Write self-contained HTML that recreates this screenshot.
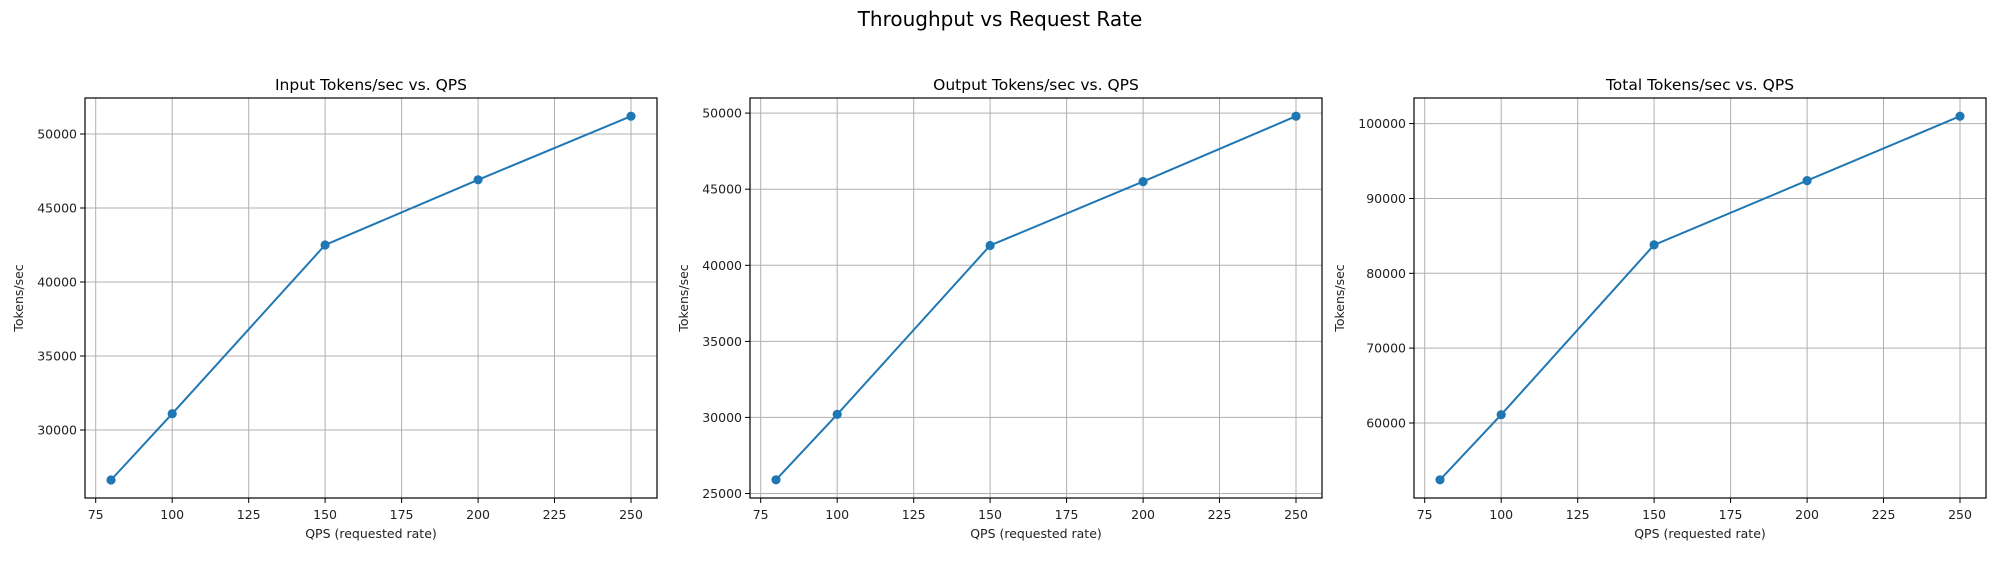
<!DOCTYPE html>
<html><head><meta charset="utf-8"><style>
html,body{margin:0;padding:0;background:#fff;}
svg{display:block;font-family:"DejaVu Sans","Liberation Sans",sans-serif;}
.g line{stroke:#b0b0b0;stroke-width:1;}
.k line{stroke:#000;stroke-width:1;}
.t{font-size:12.5px;fill:#222;}
.ttl{font-size:15.5px;fill:#000;}
</style></head><body>
<svg width="1999" height="572" viewBox="0 0 1999 572" xmlns="http://www.w3.org/2000/svg">
<rect width="1999" height="572" fill="#fff"/>
<text x="1000" y="26" text-anchor="middle" style="font-size:20px" fill="#000">Throughput vs Request Rate</text>

<!-- Panel 1 -->
<g transform="translate(85,0)">
 <g class="g">
  <line x1="10.7" y1="98" x2="10.7" y2="498"/><line x1="87.2" y1="98" x2="87.2" y2="498"/><line x1="163.7" y1="98" x2="163.7" y2="498"/><line x1="240.1" y1="98" x2="240.1" y2="498"/><line x1="316.6" y1="98" x2="316.6" y2="498"/><line x1="393.1" y1="98" x2="393.1" y2="498"/><line x1="469.5" y1="98" x2="469.5" y2="498"/><line x1="546" y1="98" x2="546" y2="498"/>
  <line x1="0" y1="430" x2="572" y2="430"/><line x1="0" y1="356" x2="572" y2="356"/><line x1="0" y1="282" x2="572" y2="282"/><line x1="0" y1="208" x2="572" y2="208"/><line x1="0" y1="134" x2="572" y2="134"/>
 </g>
 <g class="k">
  <line x1="10.7" y1="498" x2="10.7" y2="503"/><line x1="87.2" y1="498" x2="87.2" y2="503"/><line x1="163.7" y1="498" x2="163.7" y2="503"/><line x1="240.1" y1="498" x2="240.1" y2="503"/><line x1="316.6" y1="498" x2="316.6" y2="503"/><line x1="393.1" y1="498" x2="393.1" y2="503"/><line x1="469.5" y1="498" x2="469.5" y2="503"/><line x1="546" y1="498" x2="546" y2="503"/>
  <line x1="-5" y1="430" x2="0" y2="430"/><line x1="-5" y1="356" x2="0" y2="356"/><line x1="-5" y1="282" x2="0" y2="282"/><line x1="-5" y1="208" x2="0" y2="208"/><line x1="-5" y1="134" x2="0" y2="134"/>
 </g>
 <rect x="0" y="98" width="572" height="400" fill="none" stroke="#000" stroke-width="1.2"/>
 <polyline points="26,480 87.2,413.7 240.1,245 393.1,179.8 546,116.2" fill="none" stroke="#1f77b4" stroke-width="2"/>
 <g fill="#1f77b4"><circle cx="26" cy="480" r="4.6"/><circle cx="87.2" cy="413.7" r="4.6"/><circle cx="240.1" cy="245" r="4.6"/><circle cx="393.1" cy="179.8" r="4.6"/><circle cx="546" cy="116.2" r="4.6"/></g>
 <g class="t" text-anchor="middle"><text x="10.7" y="519">75</text><text x="87.2" y="519">100</text><text x="163.7" y="519">125</text><text x="240.1" y="519">150</text><text x="316.6" y="519">175</text><text x="393.1" y="519">200</text><text x="469.5" y="519">225</text><text x="546" y="519">250</text></g>
 <g class="t" text-anchor="end"><text x="-8" y="434.5">30000</text><text x="-8" y="360.5">35000</text><text x="-8" y="286.5">40000</text><text x="-8" y="212.5">45000</text><text x="-8" y="138.5">50000</text></g>
 <text class="t" x="286" y="538" text-anchor="middle">QPS (requested rate)</text>
 <text class="t" transform="translate(-62,298) rotate(-90)" text-anchor="middle">Tokens/sec</text>
 <text class="ttl" x="286" y="90" text-anchor="middle">Input Tokens/sec vs. QPS</text>
</g>

<!-- Panel 2 -->
<g transform="translate(750,0)">
 <g class="g">
  <line x1="10.7" y1="98" x2="10.7" y2="498"/><line x1="87.2" y1="98" x2="87.2" y2="498"/><line x1="163.7" y1="98" x2="163.7" y2="498"/><line x1="240.1" y1="98" x2="240.1" y2="498"/><line x1="316.6" y1="98" x2="316.6" y2="498"/><line x1="393.1" y1="98" x2="393.1" y2="498"/><line x1="469.5" y1="98" x2="469.5" y2="498"/><line x1="546" y1="98" x2="546" y2="498"/>
  <line x1="0" y1="493.5" x2="572" y2="493.5"/><line x1="0" y1="417.4" x2="572" y2="417.4"/><line x1="0" y1="341.4" x2="572" y2="341.4"/><line x1="0" y1="265.3" x2="572" y2="265.3"/><line x1="0" y1="189.2" x2="572" y2="189.2"/><line x1="0" y1="113.1" x2="572" y2="113.1"/>
 </g>
 <g class="k">
  <line x1="10.7" y1="498" x2="10.7" y2="503"/><line x1="87.2" y1="498" x2="87.2" y2="503"/><line x1="163.7" y1="498" x2="163.7" y2="503"/><line x1="240.1" y1="498" x2="240.1" y2="503"/><line x1="316.6" y1="498" x2="316.6" y2="503"/><line x1="393.1" y1="498" x2="393.1" y2="503"/><line x1="469.5" y1="498" x2="469.5" y2="503"/><line x1="546" y1="498" x2="546" y2="503"/>
  <line x1="-5" y1="493.5" x2="0" y2="493.5"/><line x1="-5" y1="417.4" x2="0" y2="417.4"/><line x1="-5" y1="341.4" x2="0" y2="341.4"/><line x1="-5" y1="265.3" x2="0" y2="265.3"/><line x1="-5" y1="189.2" x2="0" y2="189.2"/><line x1="-5" y1="113.1" x2="0" y2="113.1"/>
 </g>
 <rect x="0" y="98" width="572" height="400" fill="none" stroke="#000" stroke-width="1.2"/>
 <polyline points="26,479.8 87.2,414.4 240.1,245.5 393.1,181.6 546,116.2" fill="none" stroke="#1f77b4" stroke-width="2"/>
 <g fill="#1f77b4"><circle cx="26" cy="479.8" r="4.6"/><circle cx="87.2" cy="414.4" r="4.6"/><circle cx="240.1" cy="245.5" r="4.6"/><circle cx="393.1" cy="181.6" r="4.6"/><circle cx="546" cy="116.2" r="4.6"/></g>
 <g class="t" text-anchor="middle"><text x="10.7" y="519">75</text><text x="87.2" y="519">100</text><text x="163.7" y="519">125</text><text x="240.1" y="519">150</text><text x="316.6" y="519">175</text><text x="393.1" y="519">200</text><text x="469.5" y="519">225</text><text x="546" y="519">250</text></g>
 <g class="t" text-anchor="end"><text x="-8" y="498">25000</text><text x="-8" y="421.9">30000</text><text x="-8" y="345.9">35000</text><text x="-8" y="269.8">40000</text><text x="-8" y="193.7">45000</text><text x="-8" y="117.6">50000</text></g>
 <text class="t" x="286" y="538" text-anchor="middle">QPS (requested rate)</text>
 <text class="t" transform="translate(-62,298) rotate(-90)" text-anchor="middle">Tokens/sec</text>
 <text class="ttl" x="286" y="90" text-anchor="middle">Output Tokens/sec vs. QPS</text>
</g>

<!-- Panel 3 -->
<g transform="translate(1414,0)">
 <g class="g">
  <line x1="10.7" y1="98" x2="10.7" y2="498"/><line x1="87.2" y1="98" x2="87.2" y2="498"/><line x1="163.7" y1="98" x2="163.7" y2="498"/><line x1="240.1" y1="98" x2="240.1" y2="498"/><line x1="316.6" y1="98" x2="316.6" y2="498"/><line x1="393.1" y1="98" x2="393.1" y2="498"/><line x1="469.5" y1="98" x2="469.5" y2="498"/><line x1="546" y1="98" x2="546" y2="498"/>
  <line x1="0" y1="423" x2="572" y2="423"/><line x1="0" y1="348.1" x2="572" y2="348.1"/><line x1="0" y1="273.3" x2="572" y2="273.3"/><line x1="0" y1="198.5" x2="572" y2="198.5"/><line x1="0" y1="123.6" x2="572" y2="123.6"/>
 </g>
 <g class="k">
  <line x1="10.7" y1="498" x2="10.7" y2="503"/><line x1="87.2" y1="498" x2="87.2" y2="503"/><line x1="163.7" y1="498" x2="163.7" y2="503"/><line x1="240.1" y1="498" x2="240.1" y2="503"/><line x1="316.6" y1="498" x2="316.6" y2="503"/><line x1="393.1" y1="498" x2="393.1" y2="503"/><line x1="469.5" y1="498" x2="469.5" y2="503"/><line x1="546" y1="498" x2="546" y2="503"/>
  <line x1="-5" y1="423" x2="0" y2="423"/><line x1="-5" y1="348.1" x2="0" y2="348.1"/><line x1="-5" y1="273.3" x2="0" y2="273.3"/><line x1="-5" y1="198.5" x2="0" y2="198.5"/><line x1="-5" y1="123.6" x2="0" y2="123.6"/>
 </g>
 <rect x="0" y="98" width="572" height="400" fill="none" stroke="#000" stroke-width="1.2"/>
 <polyline points="26,479.8 87.2,414.7 240.1,244.9 393.1,180.6 546,116.2" fill="none" stroke="#1f77b4" stroke-width="2"/>
 <g fill="#1f77b4"><circle cx="26" cy="479.8" r="4.6"/><circle cx="87.2" cy="414.7" r="4.6"/><circle cx="240.1" cy="244.9" r="4.6"/><circle cx="393.1" cy="180.6" r="4.6"/><circle cx="546" cy="116.2" r="4.6"/></g>
 <g class="t" text-anchor="middle"><text x="10.7" y="519">75</text><text x="87.2" y="519">100</text><text x="163.7" y="519">125</text><text x="240.1" y="519">150</text><text x="316.6" y="519">175</text><text x="393.1" y="519">200</text><text x="469.5" y="519">225</text><text x="546" y="519">250</text></g>
 <g class="t" text-anchor="end"><text x="-8" y="427.5">60000</text><text x="-8" y="352.6">70000</text><text x="-8" y="277.8">80000</text><text x="-8" y="203">90000</text><text x="-8" y="128.1">100000</text></g>
 <text class="t" x="286" y="538" text-anchor="middle">QPS (requested rate)</text>
 <text class="t" transform="translate(-70,298) rotate(-90)" text-anchor="middle">Tokens/sec</text>
 <text class="ttl" x="286" y="90" text-anchor="middle">Total Tokens/sec vs. QPS</text>
</g>
</svg>
</body></html>
